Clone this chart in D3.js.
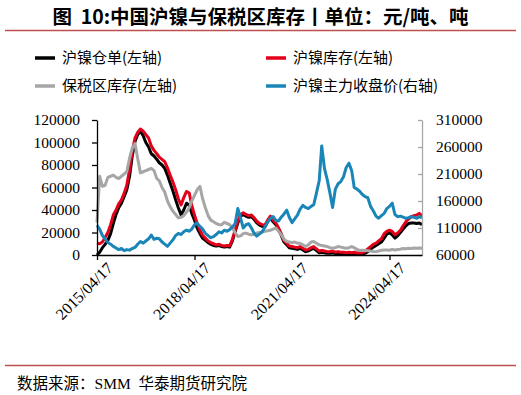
<!DOCTYPE html>
<html>
<head>
<meta charset="utf-8">
<script src="https://cdn.jsdelivr.net/npm/d3@7"></script>
<style>
	body { margin: 0; background: #fff; }
	svg { display: block; }
	.cjk { font-family: "Noto Sans CJK SC", sans-serif; white-space: pre; }
	.serif { font-family: "Liberation Serif", "Times New Roman", serif; }
</style>
</head>
<body>
<div id="chart"></div>
<script>
// monthly points, starting 2015/04/17
let start_date = new Date(2015, 3, 17);

let shfe_warrants = [
	0, 2500, 6500, 9500, 13000, 19000, 28000, 36000, 42000, 46000,
	52000, 58000, 70000, 88000, 101000, 107000, 110000, 106000, 100000, 96000,
	90000, 88000, 85000, 82000, 80000, 77000, 71000, 64000, 57000, 49000,
	42000, 35500, 40000, 46000, 44000, 37000, 31000, 24000, 19000, 15000,
	13000, 11000, 9500, 8500, 8000, 8500, 7500, 7000, 7500, 7000,
	12500, 20500, 28500, 34500, 36000, 34500, 33500, 34000, 31500, 28500,
	26500, 25500, 25000, 29500, 33000, 29500, 27000, 22500, 17500, 11500,
	9000, 6500, 6000, 5500, 5000, 6000, 4500, 3000, 3500, 5000,
	6000, 4000, 2000, 2500, 2000, 1500, 1500, 2000, 1200, 1500,
	1200, 1000, 800, 1000, 800, 1000, 600, 800, 800, 1500,
	3000, 5000, 7000, 8500, 10000, 11500, 15000, 18500, 20000, 18000,
	15000, 17000, 20000, 23000, 26000, 28000, 28500, 28500, 28000, 28500,
	27000
];

let shfe_stock = [
	10500, 10000, 11500, 15500, 20000, 27000, 35500, 40000, 45500, 49000,
	55000, 62000, 76000, 92000, 104000, 109000, 112000, 110000, 107000, 104000,
	97000, 93000, 90000, 87000, 85000, 83000, 77500, 71000, 65000, 58000,
	50000, 44500, 51000, 56500, 55000, 44000, 35500, 28000, 22000, 17500,
	15000, 12500, 11000, 10000, 9000, 9500, 8500, 8000, 8500, 8000,
	14000, 22000, 30000, 36000, 37500, 36000, 35000, 35500, 33000, 30000,
	28000, 27000, 26500, 31000, 34500, 31000, 28500, 24000, 19000, 13000,
	10500, 8000, 7500, 7000, 6500, 7500, 6000, 4500, 5000, 6500,
	7500, 5500, 3500, 4000, 3500, 3000, 3000, 3500, 2500, 3000,
	2500, 2500, 2000, 2500, 2000, 2500, 1800, 2000, 1800, 3000,
	5500, 7500, 9500, 10500, 12500, 14500, 19000, 21000, 22000, 21000,
	18000, 19500, 22000, 26000, 29500, 32000, 34000, 35000, 35500, 37000,
	35000
];

let bonded_stock = [
	29000, 70000, 61000, 62000, 69000, 70000, 71000, 69000, 68000, 70000,
	72000, 74000, 86000, 95000, 99000, 86000, 73000, 74000, 75000, 76000,
	77000, 75000, 68000, 66000, 60000, 56000, 48000, 43000, 39000, 36000,
	33000, 33500, 35000, 38000, 42000, 48000, 53000, 58000, 61000, 50000,
	42000, 35000, 31000, 29500, 28000, 27000, 27000, 29000, 28000, 27000,
	24000, 20000, 16500, 17000, 19000, 19500, 18500, 18000, 18500, 19500,
	20000, 20500, 21000, 21500, 22000, 23000, 24000, 21000, 18000, 14000,
	12000, 11500, 11000, 11500, 10500, 10500, 9000, 7500, 9000, 11500,
	12000, 10500, 9000, 8500, 8000, 7500, 6500, 6000, 6500, 7500,
	7000, 6500, 6000, 6500, 7500, 6500, 5000, 4000, 4200, 4000,
	3800, 3500, 3200, 3000, 3500, 4200, 4500, 4400, 4200, 5000,
	4400, 4800, 5200, 5800, 5600, 6000, 5800, 6200, 6000, 6300,
	6000
];

let ni_close = [
	115000, 108000, 96000, 90000, 83000, 80000, 76000, 73000, 70000, 72000,
	68000, 70000, 69000, 72000, 74000, 80000, 85000, 82000, 86000, 90000,
	97000, 89000, 91000, 90000, 84000, 80000, 76000, 82000, 88000, 96000,
	100000, 98000, 103000, 106000, 104000, 108000, 116000, 119000, 113000, 108000,
	100000, 96000, 92000, 94000, 98000, 103000, 101000, 106000, 104000, 107000,
	112000, 118000, 146000, 128000, 110000, 116000, 118000, 110000, 100000, 95000,
	99000, 103000, 112000, 121000, 128000, 131000, 124000, 123000, 130000, 136000,
	143000, 130000, 120000, 127000, 134000, 145000, 152000, 148000, 146000, 150000,
	153000, 175000, 198000, 262000, 220000, 200000, 175000, 148000, 182000, 192000,
	196000, 205000, 222000, 230000, 216000, 185000, 182000, 178000, 172000, 168000,
	166000, 150000, 142000, 132000, 128000, 133000, 137000, 146000, 150000, 156000,
	135000, 131000, 132000, 130000, 128000, 129000, 131000, 130000, 128000, 131000,
	129000
];

let left_ticks  = [0, 20000, 40000, 60000, 80000, 100000, 120000];
let right_ticks = [60000, 110000, 160000, 210000, 260000, 310000];
let x_ticks     = ['2015/04/17', '2018/04/17', '2021/04/17', '2024/04/17'];

let title_text = '图  10:中国沪镍与保税区库存丨单位：元/吨、吨';

let series = [
	{ name: '沪镍仓单(左轴)',       values: shfe_warrants, color: '#000000', axis: 'left' },
	{ name: '沪镍库存(左轴)',       values: shfe_stock,    color: '#e2001a', axis: 'left' },
	{ name: '保税区库存(左轴)',     values: bonded_stock,  color: '#a6a6a6', axis: 'left' },
	{ name: '沪镍主力收盘价(右轴)', values: ni_close,      color: '#1a86b8', axis: 'right' }
];

let full_width  = 521,
	full_height = 395,
	margins     = { left: 97, right: 99, top: 120, bottom: 140 },
	width       = full_width - margins.left - margins.right,
	height      = full_height - margins.top - margins.bottom;

let parse = d3.timeParse('%Y/%m/%d');
let dates = shfe_stock.map(function(d, i){ return d3.timeMonth.offset(start_date, i); });

let x = d3.scaleTime()
	.domain([start_date, dates[dates.length - 1]])
	.range([0, width]);

let y_left = d3.scaleLinear()
	.domain([0, 120000])
	.range([height, 0]);

let y_right = d3.scaleLinear()
	.domain([60000, 310000])
	.range([height, 0]);

let svg = d3.select('#chart')
	.append('svg')
	.attr('width', full_width)
	.attr('height', full_height);

// title + rules
svg.append('text')
	.attr('class', 'cjk')
	.attr('x', full_width / 2)
	.attr('y', 24)
	.attr('text-anchor', 'middle')
	.attr('font-size', '19.5px')
	.attr('font-weight', 'bold')
	.text(title_text);

svg.append('line')
	.attr('x1', 5).attr('x2', 516)
	.attr('y1', 30.5).attr('y2', 30.5)
	.attr('stroke', '#c0504d')
	.attr('stroke-width', 1.5);

svg.append('line')
	.attr('x1', 5).attr('x2', 516)
	.attr('y1', 365.5).attr('y2', 365.5)
	.attr('stroke', '#c0504d')
	.attr('stroke-width', 1.5);

let source = svg.append('text')
	.attr('class', 'cjk')
	.attr('x', 17)
	.attr('y', 389)
	.attr('font-size', '15.5px');

source.append('tspan').text('数据来源：');
source.append('tspan').attr('class', 'serif').text('SMM  ');
source.append('tspan').text('华泰期货研究院');

// legend
let legend = svg.append('g').attr('class', 'cjk');

let legend_item = legend.selectAll('.legend-item')
	.data(series)
	.enter()
	.append('g')
	.attr('class', 'legend-item')
	.attr('transform', function(d, i){
		return 'translate(' + (i % 2 == 0 ? 35 : 266) + ',' + (i < 2 ? 58 : 86) + ')';
	});

legend_item.append('line')
	.attr('x1', 0).attr('x2', 20)
	.attr('stroke', function(d){ return d.color; })
	.attr('stroke-width', 3.5);

legend_item.append('text')
	.attr('x', 27)
	.attr('dy', '0.36em')
	.attr('font-size', '15px')
	.text(function(d){ return d.name; });

let g = svg.append('g')
	.attr('transform', 'translate(' + margins.left + ',' + margins.top + ')');

// lines
series.forEach(function(s){
	let y = s.axis == 'left' ? y_left : y_right;
	let line = d3.line()
		.x(function(d, i){ return x(dates[i]); })
		.y(function(d){ return y(d); });

	g.append('path')
		.datum(s.values)
		.attr('fill', 'none')
		.attr('stroke', s.color)
		.attr('stroke-width', 3)
		.attr('stroke-linejoin', 'round')
		.attr('d', line);
});

// axes
function style_axis(a, color){
	a.attr('font-family', '"Liberation Serif", "Times New Roman", serif')
		.attr('font-size', 15.5);
	a.selectAll('text').attr('fill', '#000');
	a.selectAll('path, line').attr('stroke', color).attr('stroke-width', 1.3);
}

let yAxis = d3.axisLeft(y_left)
	.tickValues(left_ticks)
	.tickFormat(d3.format('d'))
	.tickSize(5)
	.tickSizeOuter(0)
	.tickPadding(12);

g.append('g')
	.attr('class', 'axis axis--y')
	.call(yAxis)
	.call(style_axis, '#000');

let yAxisRight = d3.axisRight(y_right)
	.tickValues(right_ticks)
	.tickFormat(d3.format('d'))
	.tickSize(-4)
	.tickSizeOuter(0)
	.tickPadding(14);

g.append('g')
	.attr('class', 'axis axis--y2')
	.attr('transform', 'translate(' + width + ',0)')
	.call(yAxisRight)
	.call(style_axis, '#a6a6a6');

let xAxis = d3.axisBottom(x)
	.tickValues(x_ticks.map(parse))
	.tickFormat(d3.timeFormat('%Y/%m/%d'))
	.tickSize(5)
	.tickSizeOuter(0);

let xg = g.append('g')
	.attr('class', 'axis axis--x')
	.attr('transform', 'translate(0,' + height + ')')
	.call(xAxis)
	.call(style_axis, '#000');

xg.attr('font-size', 16);

xg.selectAll('text')
	.attr('text-anchor', 'end')
	.attr('dx', '0.1em')
	.attr('dy', '0.85em')
	.attr('transform', 'rotate(-45)');
</script>
</body>
</html>
